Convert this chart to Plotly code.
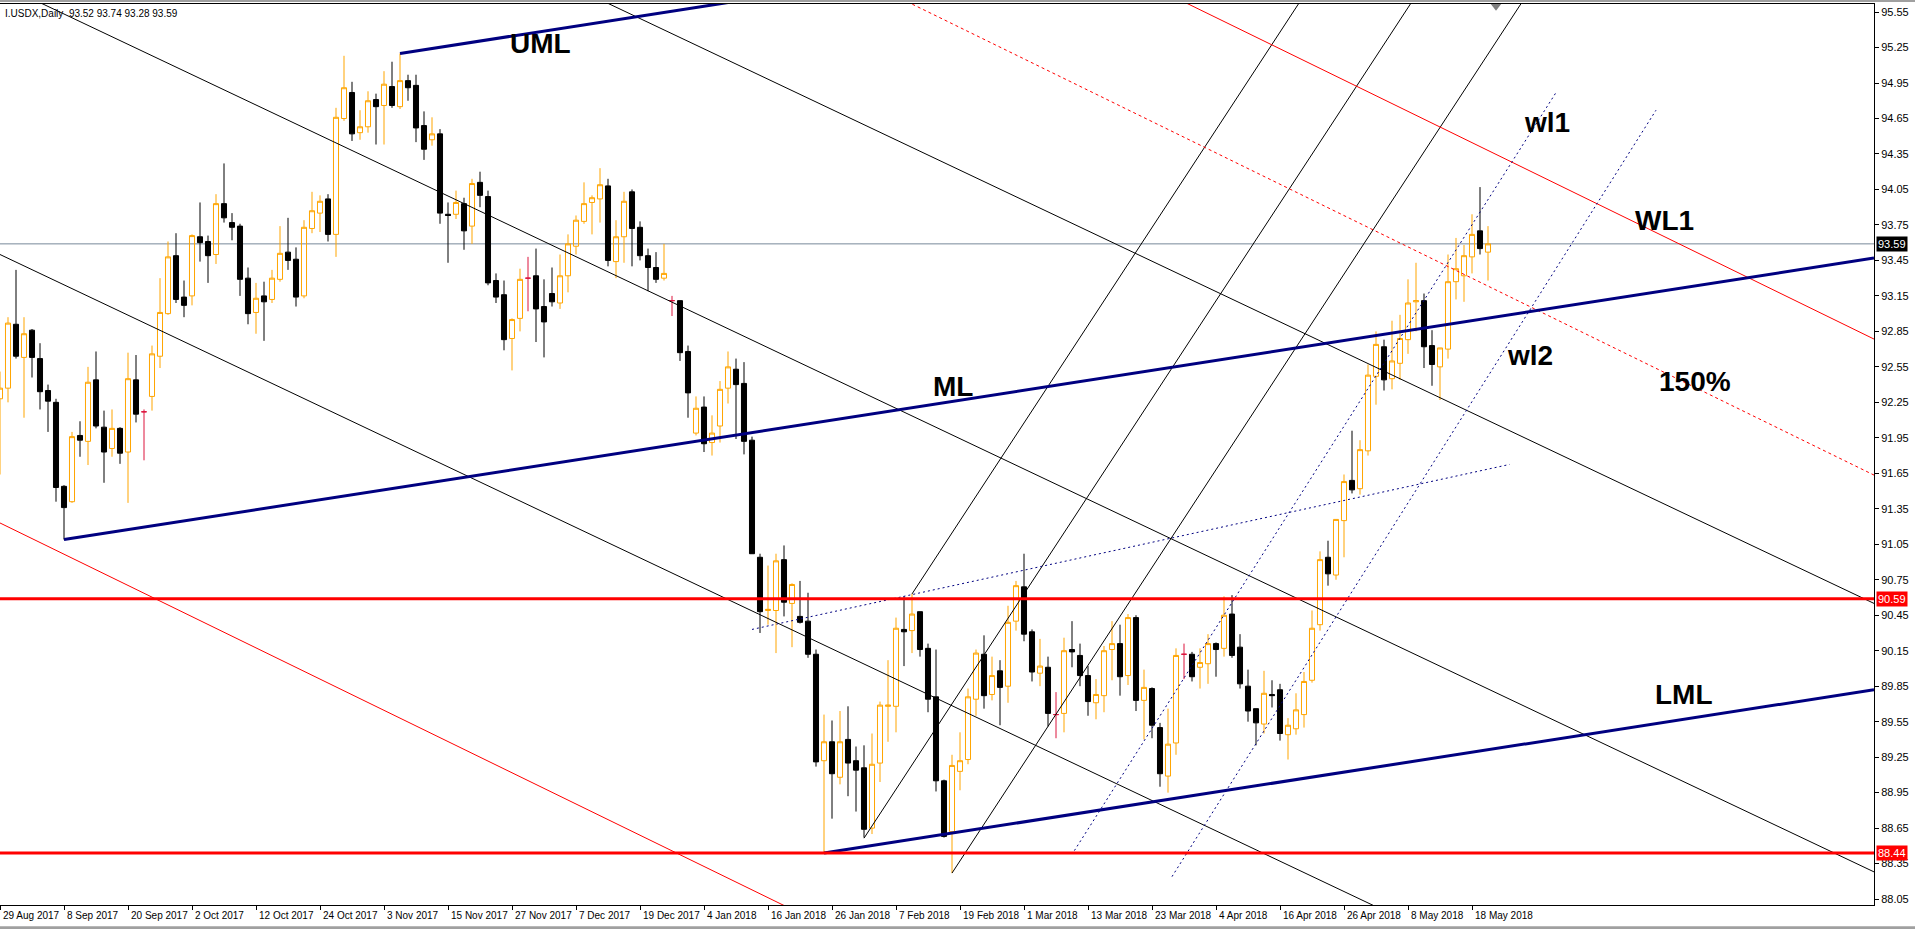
##### I.USDX Daily - candles with pitchfork lines #####

import plotly.graph_objects as go

# OHLC, one bar per trading day (29 Aug 2017 .. 22 May 2018)
opens = [92.28, 92.37, 92.91, 92.63, 92.86, 92.62, 92.35, 92.25, 91.54, 91.41,
         91.97, 91.92, 92.44, 92.04, 91.86, 92.03, 91.83, 92.44, 92.17, 92.30,
         92.64, 93.00, 93.49, 93.14, 93.15, 93.65, 93.61, 93.50, 93.93, 93.77,
         93.74, 93.30, 93.01, 93.15, 93.12, 93.29, 93.52, 93.46, 93.15, 93.72,
         93.85, 93.97, 93.67, 94.65, 94.87, 94.53, 94.58, 94.81, 94.76, 94.92,
         94.75, 94.97, 94.93, 94.59, 94.47, 94.52, 93.84, 93.84, 93.93, 93.74,
         94.11, 93.99, 93.28, 93.16, 92.79, 92.96, 93.30, 93.32, 93.06, 93.17,
         93.09, 93.32, 93.57, 93.78, 93.94, 93.97, 94.08, 93.44, 93.65, 94.03,
         93.73, 93.49, 93.39, 93.30, 93.11, 93.11, 92.68, 91.99, 92.21, 91.91,
         92.05, 92.37, 92.53, 92.41, 91.93, 90.94, 90.49, 90.49, 90.92, 90.55,
         90.44, 90.40, 90.12, 89.22, 89.38, 89.08, 89.40, 89.22, 89.16, 88.65,
         89.20, 89.68, 89.68, 90.33, 90.32, 90.48, 90.17, 89.76, 89.05, 88.62,
         89.13, 89.23, 89.74, 90.12, 89.78, 89.98, 89.85, 90.40, 90.69, 90.31,
         89.96, 90.01, 89.61, 89.62, 90.16, 90.11, 89.94, 89.71, 89.77, 90.16,
         90.21, 89.94, 90.43, 89.73, 89.83, 89.50, 89.09, 89.37, 90.12, 90.12,
         90.01, 90.04, 90.21, 90.17, 90.46, 90.18, 89.85, 89.66, 89.53, 89.78,
         89.82, 89.44, 89.49, 89.61, 89.90, 90.37, 90.94, 90.79, 91.25, 91.59,
         91.52, 91.84, 92.47, 92.72, 92.45, 92.58, 92.78, 93.10, 93.11, 92.73,
         92.55, 92.70, 93.27, 93.32, 93.48, 93.70, 93.52]
highs = [92.51, 92.97, 93.37, 92.97, 92.87, 92.75, 92.40, 92.28, 91.55, 92.00,
         92.09, 92.55, 92.68, 92.18, 92.19, 92.04, 92.67, 92.65, 92.19, 92.73,
         93.30, 93.61, 93.68, 93.28, 93.67, 93.94, 93.66, 94.01, 94.27, 93.85,
         93.76, 93.39, 93.26, 93.27, 93.37, 93.74, 93.81, 93.56, 93.79, 94.03,
         94.00, 94.01, 94.74, 95.18, 94.96, 94.72, 94.88, 94.86, 95.05, 95.13,
         95.20, 95.02, 95.02, 94.71, 94.66, 94.56, 93.94, 94.04, 93.98, 94.14,
         94.20, 94.04, 93.34, 93.28, 92.96, 93.38, 93.48, 93.55, 93.29, 93.39,
         93.50, 93.67, 93.83, 94.11, 94.00, 94.23, 94.14, 93.79, 94.03, 94.05,
         93.78, 93.55, 93.52, 93.59, 93.15, 93.11, 92.73, 92.30, 92.30, 92.14,
         92.43, 92.68, 92.62, 92.59, 91.96, 90.97, 90.87, 90.97, 91.04, 90.72,
         90.74, 90.64, 90.16, 89.61, 89.56, 89.64, 89.68, 89.34, 89.35, 89.45,
         89.72, 90.07, 90.43, 90.61, 90.63, 90.48, 90.21, 90.16, 89.06, 89.27,
         89.46, 89.83, 90.16, 90.28, 90.10, 90.07, 90.53, 90.74, 90.97, 90.33,
         90.25, 90.10, 89.80, 90.26, 90.40, 90.21, 90.02, 89.91, 90.19, 90.40,
         90.37, 90.46, 90.45, 89.99, 89.84, 89.54, 89.66, 90.17, 90.21, 90.14,
         90.17, 90.29, 90.22, 90.61, 90.62, 90.29, 89.99, 89.66, 89.98, 89.90,
         89.87, 89.58, 89.79, 89.97, 90.49, 90.99, 91.08, 91.26, 91.64, 92.01,
         91.93, 92.57, 92.85, 92.78, 92.94, 92.99, 93.29, 93.43, 93.17, 92.86,
         92.71, 93.50, 93.64, 93.58, 93.84, 94.07, 93.74]
lows = [91.64, 92.25, 92.62, 92.12, 92.46, 92.19, 92.00, 91.41, 91.09, 91.40,
        91.79, 91.72, 92.03, 91.57, 91.79, 91.73, 91.40, 92.08, 91.76, 92.18,
        92.54, 92.99, 93.09, 92.97, 93.07, 93.44, 93.26, 93.42, 93.77, 93.62,
        93.15, 92.91, 92.83, 92.77, 93.09, 93.27, 93.37, 93.06, 93.13, 93.68,
        93.69, 93.61, 93.48, 94.63, 94.46, 94.47, 94.53, 94.43, 94.43, 94.74,
        94.73, 94.80, 94.45, 94.30, 94.42, 93.76, 93.43, 93.80, 93.54, 93.59,
        93.90, 93.24, 93.09, 92.69, 92.52, 92.85, 93.02, 92.76, 92.63, 93.06,
        93.04, 93.18, 93.50, 93.76, 93.67, 93.77, 93.40, 93.30, 93.43, 93.40,
        93.45, 93.19, 93.26, 93.28, 92.98, 92.60, 92.12, 91.97, 91.83, 91.80,
        91.91, 92.24, 91.94, 91.81, 90.97, 90.30, 90.37, 90.13, 90.44, 90.18,
        90.38, 90.09, 89.17, 88.44, 88.73, 89.02, 88.92, 88.79, 88.57, 88.60,
        89.04, 89.38, 89.46, 90.02, 90.13, 90.10, 89.63, 88.96, 88.57, 88.27,
        88.97, 89.19, 89.60, 89.66, 89.73, 89.52, 89.71, 90.32, 90.23, 89.89,
        89.85, 89.51, 89.41, 89.46, 90.01, 89.85, 89.60, 89.57, 89.63, 89.90,
        89.77, 89.86, 89.64, 89.40, 89.41, 89.00, 88.95, 89.27, 89.91, 89.89,
        89.83, 89.87, 89.93, 90.10, 90.09, 89.83, 89.55, 89.35, 89.45, 89.67,
        89.39, 89.23, 89.44, 89.50, 89.88, 90.32, 90.70, 90.75, 90.94, 91.48,
        91.47, 91.80, 92.23, 92.35, 92.36, 92.44, 92.66, 92.85, 92.54, 92.39,
        92.27, 92.62, 93.12, 93.10, 93.34, 93.50, 93.28]
closes = [92.37, 92.92, 92.64, 92.83, 92.63, 92.34, 92.26, 91.53, 91.36, 91.96,
          91.93, 92.42, 92.05, 91.83, 92.03, 91.82, 92.45, 92.15, 92.17, 92.66,
          93.01, 93.48, 93.12, 93.07, 93.66, 93.60, 93.49, 93.93, 93.81, 93.73,
          93.29, 93.00, 93.13, 93.10, 93.30, 93.51, 93.45, 93.14, 93.73, 93.87,
          93.95, 93.67, 94.66, 94.91, 94.52, 94.58, 94.80, 94.75, 94.94, 94.76,
          94.97, 94.91, 94.57, 94.39, 94.52, 93.85, 93.83, 93.94, 93.70, 94.10,
          94.00, 93.26, 93.14, 92.78, 92.95, 93.29, 93.30, 93.04, 92.93, 93.10,
          93.32, 93.59, 93.79, 93.93, 93.98, 94.09, 93.45, 93.65, 93.95, 93.72,
          93.49, 93.39, 93.29, 93.34, 93.11, 92.67, 92.33, 92.20, 91.90, 91.99,
          92.36, 92.55, 92.40, 91.92, 90.97, 90.48, 90.50, 90.91, 90.56, 90.71,
          90.39, 90.12, 89.21, 89.38, 89.11, 89.38, 89.20, 89.14, 88.64, 89.19,
          89.69, 89.69, 90.34, 90.31, 90.46, 90.16, 89.74, 89.05, 88.58, 89.18,
          89.22, 89.76, 90.13, 89.77, 89.94, 89.84, 90.39, 90.70, 90.29, 89.97,
          90.02, 89.62, 89.61, 90.15, 90.14, 89.94, 89.72, 89.78, 90.15, 90.21,
          89.93, 90.43, 89.73, 89.84, 89.52, 89.11, 89.36, 90.11, 90.12, 89.93,
          90.05, 90.21, 90.16, 90.45, 90.11, 89.87, 89.64, 89.54, 89.79, 89.77,
          89.45, 89.52, 89.65, 89.89, 90.34, 90.92, 90.80, 91.26, 91.58, 91.51,
          91.85, 92.48, 92.74, 92.44, 92.60, 92.79, 93.09, 93.11, 92.72, 92.57,
          92.71, 93.27, 93.38, 93.49, 93.67, 93.55, 93.59]

# date labels, one every 8 bars
date_labels = ['29 Aug 2017', '8 Sep 2017', '20 Sep 2017', '2 Oct 2017', '12 Oct 2017',
               '24 Oct 2017', '3 Nov 2017', '15 Nov 2017', '27 Nov 2017', '7 Dec 2017',
               '19 Dec 2017', '4 Jan 2018', '16 Jan 2018', '26 Jan 2018', '7 Feb 2018',
               '19 Feb 2018', '1 Mar 2018', '13 Mar 2018', '23 Mar 2018', '4 Apr 2018',
               '16 Apr 2018', '26 Apr 2018', '8 May 2018', '18 May 2018']
label_step = 8

# horizontal levels
bid_level = 93.59
res_level = 90.59
sup_level = 88.44

# drawn objects: (bar0, price0, bar1, price1)
pitchfork_main = [(50, 95.20, 110, 95.83),      # UML
                  (8, 91.09, 234.25, 93.47),     # ML
                  (103, 88.44, 234.25, 89.82)]   # LML
channel_black = [(0, 93.50, 234.25, 85.99),
                 (0, 95.79, 234.25, 88.28),
                 (0, 98.06, 234.25, 90.55)]
pitchfork_steep = [(114, 90.63, 166, 96.0),
                   (108, 88.565, 180, 96.0),
                   (119, 88.27, 193.8, 96.0)]
red_solid = [(140, 95.90, 234.25, 92.785),      # WL1
             (0, 91.23, 100, 87.93)]
red_dotted = [(110, 95.75, 234.25, 91.635)]     # 150%
blue_dotted = [(94, 90.33, 188.7, 91.725),
               (134.3, 88.46, 194.6, 94.88),    # wl1
               (146.5, 88.24, 207, 94.72)]      # wl2

# text labels: (text, bar, price)
labels = [('UML', 67.6, 95.28), ('ML', 119.1, 92.38), ('LML', 210.5, 89.78),
          ('wl1', 193.4, 94.62), ('WL1', 208.1, 93.79), ('wl2', 191.3, 92.65),
          ('150%', 211.9, 92.43)]

NAVY = '#000080'
ORANGE = '#FFA500'
FONT = 'Liberation Sans'

bars = list(range(len(opens)))
doji = [i for i in bars if opens[i] == closes[i]]
normal = [i for i in bars if opens[i] != closes[i]]
tick_bars = [i * label_step for i in range(len(date_labels))]


def seg(p, color, width, dash='solid'):
    return go.Scatter(x=[p[0], p[2]], y=[p[1], p[3]], mode='lines',
                      line=dict(color=color, width=width, dash=dash),
                      hoverinfo='skip', showlegend=False)


fig = go.Figure()

for p in channel_black:
    fig.add_trace(seg(p, 'black', 1))
for p in pitchfork_steep:
    fig.add_trace(seg(p, 'black', 1))
for p in red_solid:
    fig.add_trace(seg(p, '#FF0000', 1))
for p in red_dotted:
    fig.add_trace(seg(p, '#FF0000', 1, '3px,3px'))
for p in blue_dotted:
    fig.add_trace(seg(p, NAVY, 1, '2px,3px'))
for p in pitchfork_main:
    fig.add_trace(seg(p, NAVY, 3))

# candles
fig.add_trace(go.Candlestick(
    x=[bars[i] for i in normal],
    open=[opens[i] for i in normal], high=[highs[i] for i in normal],
    low=[lows[i] for i in normal], close=[closes[i] for i in normal],
    increasing=dict(line=dict(color=ORANGE, width=1), fillcolor='rgba(0,0,0,0)'),
    decreasing=dict(line=dict(color='black', width=1), fillcolor='black'),
    whiskerwidth=0, showlegend=False, hoverinfo='skip'))
fig.add_trace(go.Candlestick(
    x=[bars[i] for i in doji],
    open=[opens[i] for i in doji], high=[highs[i] for i in doji],
    low=[lows[i] for i in doji], close=[closes[i] for i in doji],
    increasing=dict(line=dict(color='#DC143C', width=1), fillcolor='#DC143C'),
    decreasing=dict(line=dict(color='#DC143C', width=1), fillcolor='#DC143C'),
    whiskerwidth=0, showlegend=False, hoverinfo='skip'))

# chart shift marker
fig.add_trace(go.Scatter(x=[len(opens)], y=[95.60], mode='markers',
                         marker=dict(symbol='triangle-down', size=9, color='#7F7F7F'),
                         cliponaxis=False, hoverinfo='skip', showlegend=False))

shapes = [
    dict(type='line', xref='paper', x0=0, x1=1, yref='y', y0=bid_level, y1=bid_level,
         line=dict(color='#778899', width=1), layer='below'),
    dict(type='line', xref='paper', x0=0, x1=1, yref='y', y0=res_level, y1=res_level,
         line=dict(color='#FF0000', width=3)),
    dict(type='line', xref='paper', x0=0, x1=1, yref='y', y0=sup_level, y1=sup_level,
         line=dict(color='#FF0000', width=3)),
    # window frame bands
    dict(type='rect', xref='paper', yref='paper', x0=0, x1=1.03, y0=1.0022, y1=1.0045,
         fillcolor='#A0A0A0', line=dict(width=0)),
    dict(type='rect', xref='paper', yref='paper', x0=0, x1=1.03, y0=-0.0266, y1=-0.0235,
         fillcolor='#A0A0A0', line=dict(width=0)),
]

annotations = []
for text, bx, by in labels:
    annotations.append(dict(x=bx, y=by, xref='x', yref='y', text='<b>' + text + '</b>',
                            showarrow=False, font=dict(family=FONT, size=28, color='black')))

# date labels, left-aligned at their tick like the terminal draws them
for tb, txt in zip(tick_bars, date_labels):
    annotations.append(dict(x=tb, y=0, xref='x', yref='paper', xanchor='left', yanchor='top',
                            xshift=1, yshift=-3, text=txt, showarrow=False,
                            font=dict(family=FONT, size=10, color='black')))

# price tags on the axis
for level, bg in [(bid_level, 'black'), (res_level, '#FF0000'), (sup_level, '#FF0000')]:
    annotations.append(dict(x=1, xref='paper', xanchor='left', xshift=2, y=level, yref='y',
                            text=f'{level:.2f}', showarrow=False, bgcolor=bg, borderpad=1,
                            font=dict(family=FONT, size=11, color='white')))

annotations.append(dict(
    x=0, y=1, xref='paper', yref='paper', xanchor='left', yanchor='top', xshift=3, yshift=-2,
    text=f'I.USDX,Daily  {opens[-1]:.2f} {highs[-1]:.2f} {lows[-1]:.2f} {closes[-1]:.2f}',
    showarrow=False, font=dict(family=FONT, size=10, color='black')))

fig.update_layout(
    template='none',
    width=1915, height=929,
    margin=dict(l=0, r=41, t=4, b=24),
    paper_bgcolor='white', plot_bgcolor='white',
    font=dict(family=FONT, size=10, color='black'),
    boxgap=0.3, boxgroupgap=0.1,
    showlegend=False,
    shapes=shapes,
    annotations=annotations,
    xaxis=dict(range=[0, 234.25], rangeslider=dict(visible=False), showgrid=False,
               zeroline=False, showline=True, mirror=True, linecolor='black', linewidth=1,
               tickmode='array', tickvals=tick_bars, showticklabels=False,
               ticks='outside', ticklen=4, tickcolor='black', automargin=False),
    yaxis=dict(range=[88.0, 95.618], side='right', showgrid=False, zeroline=False,
               showline=True, linecolor='black', linewidth=1,
               tickmode='linear', tick0=88.05, dtick=0.3, tickformat='.2f',
               ticks='outside', ticklen=4, tickcolor='black', automargin=False,
               tickfont=dict(family=FONT, size=11, color='black')),
)

# page without body margin so the figure fills the window exactly
fig.write_html("out.html", config={'displayModeBar': False},
               post_script="document.body.style.margin='0';document.body.style.overflow='hidden';")
